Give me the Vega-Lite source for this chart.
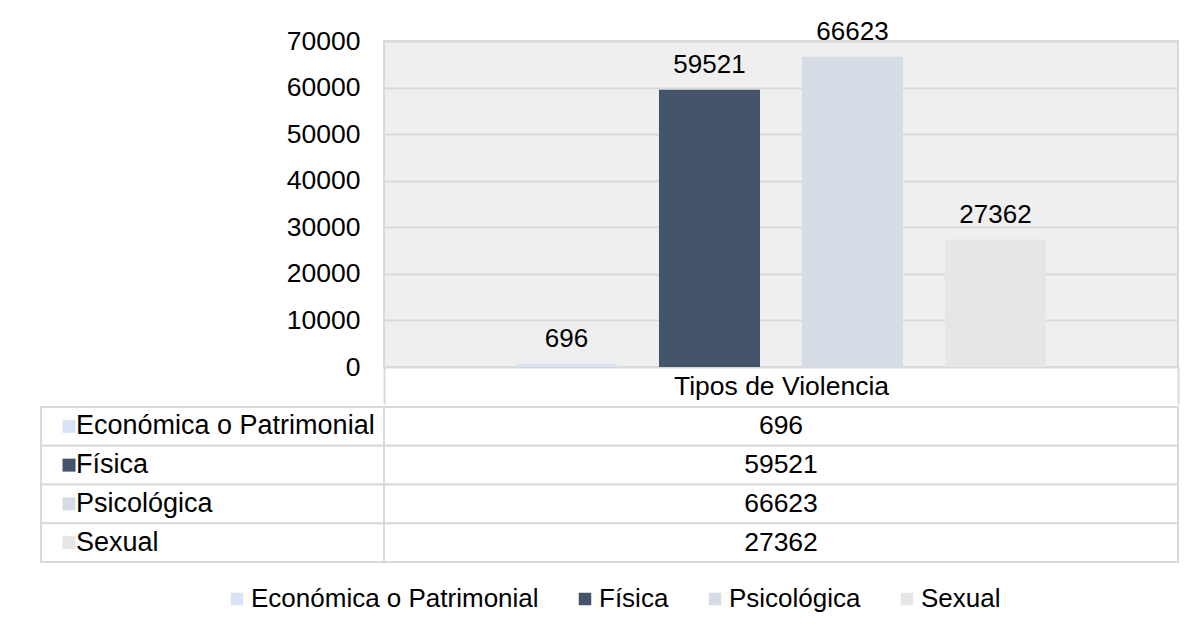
{
  "$schema": "https://vega.github.io/schema/vega-lite/v6.json",
  "padding": {"left": 39, "top": 17, "right": 0, "bottom": 0},
  "background": "#ffffff",
  "datasets": {
    "main": [
      {"cat": "Tipos de Violencia", "tipo": "Económica o Patrimonial", "valor": 696},
      {"cat": "Tipos de Violencia", "tipo": "Física", "valor": 59521},
      {"cat": "Tipos de Violencia", "tipo": "Psicológica", "valor": 66623},
      {"cat": "Tipos de Violencia", "tipo": "Sexual", "valor": 27362}
    ]
  },
  "config": {
    "font": "Liberation Sans",
    "view": {"stroke": null},
    "concat": {"spacing": 0}
  },
  "spacing": 0,
  "vconcat": [
    {
      "width": 794,
      "height": 326,
      "data": {"name": "main"},
      "view": {"fill": "#efefef", "stroke": "#d9d9d9", "strokeWidth": 2},
      "encoding": {
        "x": {
          "field": "cat", "type": "nominal",
          "scale": {"paddingInner": 0, "paddingOuter": 0},
          "axis": {
            "orient": "bottom", "tickBand": "extent", "ticks": true, "tickSize": 37,
            "tickColor": "#d9d9d9", "tickWidth": 2, "domain": false, "grid": false,
            "labelFontSize": 26.5, "labelColor": "#000000", "labelPadding": -31,
            "labelAngle": 0, "labelLimit": 0, "title": null
          }
        },
        "xOffset": {
          "field": "tipo", "type": "nominal", "sort": null,
          "scale": {"paddingInner": 0.2937, "paddingOuter": 0.923}
        },
        "y": {
          "field": "valor", "type": "quantitative",
          "scale": {"domain": [0, 70000], "nice": false},
          "axis": {
            "values": [0, 10000, 20000, 30000, 40000, 50000, 60000, 70000],
            "format": "d", "ticks": false, "domain": false, "labelPadding": 24,
            "labelFontSize": 26.5, "labelColor": "#000000", "title": null,
            "gridColor": "#d9d9d9", "gridWidth": 2
          }
        }
      },
      "layer": [
        {
          "mark": {"type": "bar"},
          "encoding": {
            "color": {
              "field": "tipo", "type": "nominal",
              "scale": {
                "domain": ["Económica o Patrimonial", "Física", "Psicológica", "Sexual"],
                "range": ["#DAE3F3", "#44546A", "#D6DCE5", "#E7E6E6"]
              },
              "legend": {
                "orient": "none", "legendX": -160, "legendY": 545, "direction": "horizontal",
                "columns": 4, "title": null, "symbolType": "square", "symbolSize": 156,
                "symbolStrokeWidth": 0, "labelFontSize": 26, "labelColor": "#000000",
                "labelLimit": 600, "columnPadding": 33, "labelOffset": 1
              }
            }
          }
        },
        {
          "mark": {"type": "text", "baseline": "alphabetic", "dy": -17, "fontSize": 26, "color": "#000000"},
          "encoding": {"text": {"field": "valor", "type": "quantitative", "format": "d"}}
        }
      ]
    },
    {
      "width": 794,
      "height": 155,
      "data": {"name": "main"},
      "encoding": {
        "y": {
          "field": "tipo", "type": "nominal", "sort": null,
          "scale": {"paddingInner": 0, "paddingOuter": 0}, "axis": null
        }
      },
      "layer": [
        {
          "mark": {"type": "rect", "fill": "#ffffff", "stroke": "#d9d9d9", "strokeWidth": 2},
          "encoding": {
            "x": {"datum": -0.432, "type": "quantitative", "scale": {"domain": [0, 1], "nice": false, "zero": false}, "axis": null},
            "x2": {"datum": 0}
          }
        },
        {
          "mark": {"type": "rect", "fill": "#ffffff", "stroke": "#d9d9d9", "strokeWidth": 2},
          "encoding": {
            "x": {"datum": 0, "type": "quantitative"},
            "x2": {"datum": 1}
          }
        },
        {
          "mark": {"type": "point", "shape": "square", "filled": true, "size": 169, "opacity": 1, "strokeWidth": 0},
          "encoding": {
            "x": {"datum": -0.3967, "type": "quantitative"},
            "color": {
              "field": "tipo", "type": "nominal",
              "scale": {
                "domain": ["Económica o Patrimonial", "Física", "Psicológica", "Sexual"],
                "range": ["#DAE3F3", "#44546A", "#D6DCE5", "#E7E6E6"]
              },
              "legend": null
            }
          }
        },
        {
          "mark": {"type": "text", "align": "left", "baseline": "middle", "fontSize": 27, "color": "#000000"},
          "encoding": {
            "x": {"datum": -0.3879, "type": "quantitative"},
            "text": {"field": "tipo", "type": "nominal"}
          }
        },
        {
          "mark": {"type": "text", "align": "center", "baseline": "middle", "fontSize": 26.5, "color": "#000000"},
          "encoding": {
            "x": {"datum": 0.5, "type": "quantitative"},
            "text": {"field": "valor", "type": "quantitative", "format": "d"}
          }
        }
      ]
    }
  ]
}
